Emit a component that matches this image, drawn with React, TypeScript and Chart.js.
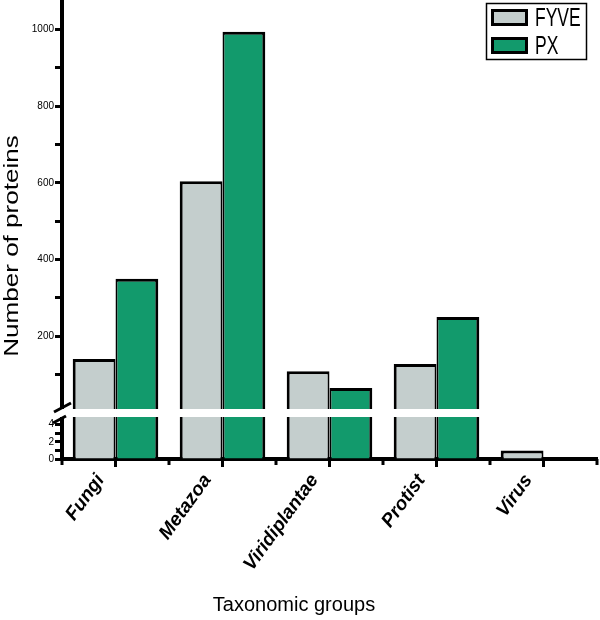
import React, { useEffect, useRef } from 'react';
import { Chart, registerables } from 'chart.js';

Chart.register(...registerables);

// ---- data ----
const categories = ['Fungi', 'Metazoa', 'Viridiplantae', 'Protist', 'Virus'];
const seriesLabels = ['FYVE', 'PX'];
const fyveValues = [141, 604, 109, 128, 1];
const pxValues = [350, 994, 65, 250, 0];
const lowTickLabels = [0, 2, 4];
const highTickLabels = [200, 400, 600, 800, 1000];
const seriesColors = ['#c4cecd', '#129a6c'];

const LOW_MAX = 5.35;
const HIGH_MAX = 1074;
const FONT = "'Liberation Sans', Arial, sans-serif";

function withMinors(labels: number[]): number[] {
  const step = labels.length > 1 ? labels[1] - labels[0] : 1;
  const out: number[] = [];
  labels.forEach((v, i) => {
    if (i > 0 || v - step / 2 > 0) out.push(v - step / 2);
    out.push(v);
  });
  if (labels[0] === 0) return out.filter((v) => v >= 0);
  return out.filter((v) => v > 0);
}

const decor = {
  id: 'decor',
  afterDraw(chart: any) {
    const { ctx, chartArea } = chart;
    const xs = chart.scales.x;
    const hi = chart.scales.yHigh;
    const L = chartArea.left;
    const B = hi.bottom;
    const catW = (xs.right - xs.left) / categories.length;
    ctx.save();
    // boundary (minor) ticks on x axis
    ctx.strokeStyle = '#000';
    ctx.lineWidth = 3;
    for (let i = 0; i <= categories.length; i++) {
      const px = Math.round(xs.left + i * catW);
      ctx.beginPath();
      ctx.moveTo(px, chartArea.bottom);
      ctx.lineTo(px, chartArea.bottom + 6);
      ctx.stroke();
    }
    // break band
    const bandRight = xs.getPixelForValue(3) + catW * 0.4 + 3;
    ctx.fillStyle = '#fff';
    ctx.fillRect(L - 3, B - 4, bandRight - (L - 3), 8);
    // break marks
    ctx.strokeStyle = '#000';
    ctx.lineWidth = 3;
    ctx.lineCap = 'butt';
    ctx.beginPath();
    ctx.moveTo(L - 8, B - 1);
    ctx.lineTo(L + 9, B - 10);
    ctx.moveTo(L - 9, B + 10);
    ctx.lineTo(L + 4, B + 3);
    ctx.stroke();

    // y title
    ctx.fillStyle = '#000';
    ctx.save();
    ctx.translate(12, 246);
    ctx.rotate(-Math.PI / 2);
    ctx.scale(1.24, 1);
    ctx.font = `21px ${FONT}`;
    ctx.textAlign = 'center';
    ctx.textBaseline = 'middle';
    ctx.fillText('Number of proteins', 0, 0);
    ctx.restore();

    // x title
    ctx.font = `20px ${FONT}`;
    ctx.textAlign = 'center';
    ctx.textBaseline = 'middle';
    ctx.fillText('Taxonomic groups', 294, 605);

    // legend
    ctx.lineWidth = 1.5;
    ctx.strokeStyle = '#000';
    ctx.strokeRect(486.5, 3.5, 100, 56);
    const rows = [9, 37];
    seriesLabels.forEach((lab, i) => {
      const y = rows[i];
      ctx.fillStyle = seriesColors[i];
      ctx.fillRect(491, y, 37, 17);
      ctx.lineWidth = 3;
      ctx.strokeRect(492.5, y + 1.5, 34, 14);
      ctx.fillStyle = '#000';
      ctx.save();
      ctx.translate(535, y + 9);
      ctx.scale(0.7, 1);
      ctx.font = `25px ${FONT}`;
      ctx.textAlign = 'left';
      ctx.textBaseline = 'middle';
      ctx.fillText(lab, 0, 1);
      ctx.restore();
    });
    ctx.restore();
  },
};

export default function App() {
  const ref = useRef<HTMLCanvasElement>(null);
  useEffect(() => {
    const canvas = ref.current;
    if (!canvas) return;
    const lowVals = (arr: number[]) => arr.map((v) => Math.min(v, LOW_MAX));
    const highVals = (arr: number[]) => arr.map((v) => (v > LOW_MAX ? v : null));
    const bwA = { top: 3, left: 3, right: 2, bottom: 0 };
    const bwB = { top: 3, left: 2, right: 3, bottom: 0 };
    const common = { borderColor: '#000', borderSkipped: 'start' as const };
    const yCommon = {
      type: 'linear' as const,
      position: 'left' as const,
      stack: 'y',
      stacked: false,
      z: 1,
      grid: { drawOnChartArea: false, drawTicks: true, tickLength: 7, tickWidth: 3, tickColor: '#000' },
      border: { display: true, width: 4, color: '#000' },
      ticks: { color: '#000', padding: 1, font: { family: FONT, size: 10 }, autoSkip: false },
      afterFit: (s: any) => { s.width = 62; s.paddingTop = 0; s.paddingBottom = 0; },
    };
    const chart = new Chart(canvas, {
      type: 'bar',
      data: {
        labels: categories,
        datasets: [
          { label: seriesLabels[0], data: lowVals(fyveValues), yAxisID: 'yLow', stack: 's0', backgroundColor: seriesColors[0], borderWidth: bwA, ...common },
          { label: seriesLabels[1], data: lowVals(pxValues), yAxisID: 'yLow', stack: 's1', backgroundColor: seriesColors[1], borderWidth: bwB, ...common },
          { label: seriesLabels[0], data: highVals(fyveValues), yAxisID: 'yHigh', stack: 's0', backgroundColor: seriesColors[0], borderWidth: bwA, ...common },
          { label: seriesLabels[1], data: highVals(pxValues), yAxisID: 'yHigh', stack: 's1', backgroundColor: seriesColors[1], borderWidth: bwB, ...common },
        ] as any,
      },
      options: {
        animation: false,
        responsive: false,
        devicePixelRatio: 1,
        layout: { padding: { top: 1, right: 3, left: 0, bottom: 0 } },
        plugins: { legend: { display: false }, tooltip: { enabled: false } },
        datasets: { bar: { categoryPercentage: 0.8, barPercentage: 1 } },
        scales: {
          x: {
            type: 'category',
            offset: true,
            z: 1,
            grid: { offset: false, drawOnChartArea: false, drawTicks: true, tickLength: 8, tickWidth: 3, tickColor: '#000' },
            border: { display: true, width: 4, color: '#000' },
            ticks: {
              color: '#000',
              maxRotation: 54,
              minRotation: 54,
              padding: 3,
              labelOffset: -15,
              autoSkip: false,
              font: { family: FONT, size: 19, weight: 'bold', style: 'italic' },
            },
            afterFit: (s: any) => { s.height = 161; s.paddingLeft = 0; s.paddingRight = 0; },
          },
          yLow: {
            ...yCommon,
            min: 0,
            max: LOW_MAX,
            stackWeight: 46,
            afterBuildTicks: (s: any) => { s.ticks = withMinors(lowTickLabels).map((v) => ({ value: v })); },
            ticks: { ...yCommon.ticks, callback: (v: any) => (lowTickLabels.includes(Number(v)) ? String(v) : '') },
          },
          yHigh: {
            ...yCommon,
            min: 0,
            max: HIGH_MAX,
            stackWeight: 412,
            afterBuildTicks: (s: any) => { s.ticks = withMinors(highTickLabels).map((v) => ({ value: v })); },
            ticks: { ...yCommon.ticks, callback: (v: any) => (highTickLabels.includes(Number(v)) ? String(v) : '') },
          },
        } as any,
      },
      plugins: [decor],
    });
    return () => chart.destroy();
  }, []);
  return (
    <div style={{ position: 'absolute', left: 0, top: 0, width: 600, height: 620, background: '#fff' }}>
      <canvas ref={ref} width={600} height={620} style={{ display: 'block' }} />
    </div>
  );
}
